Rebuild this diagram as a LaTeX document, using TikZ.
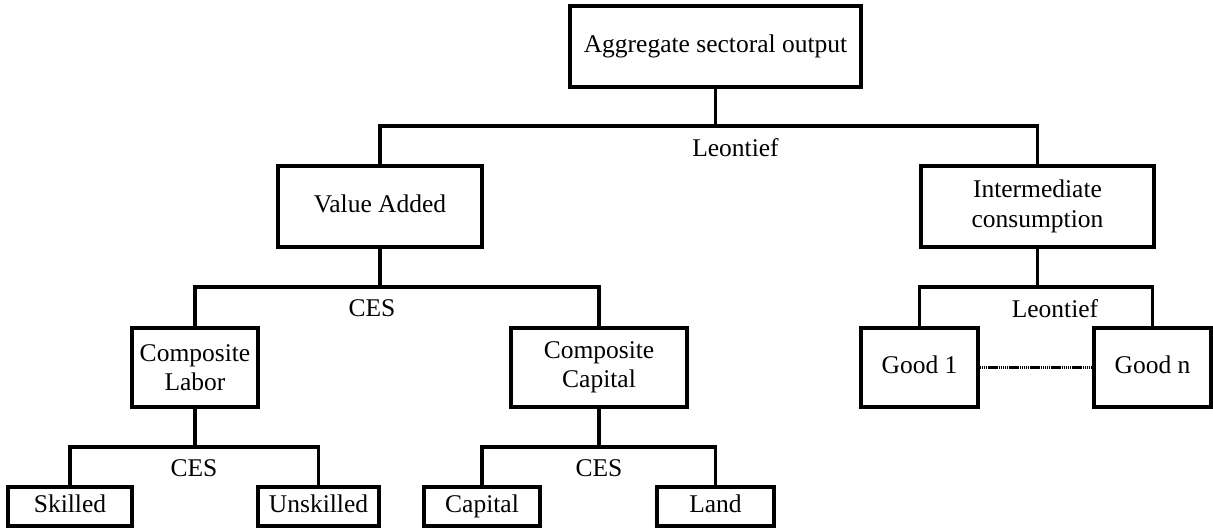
\documentclass[tikz,border=0pt]{standalone}
\usepackage{fontspec}
\setmainfont{Liberation Serif}
\begin{document}
\begin{tikzpicture}[x=1pt,y=-1pt,
  box/.style={draw=black,line width=3.2pt,fill=white,inner sep=0pt,align=center,
    font=\fontsize{25.5}{29.5}\selectfont},
  sl/.style={text height=18pt,text depth=5.5pt},
  lab/.style={inner sep=0pt,font=\fontsize{25.5}{29.5}\selectfont},
  conn/.style={draw=black,line width=3.2pt},
  dots/.style={draw=black,line width=2.2pt,dash pattern=on 1.5pt off 0.6pt}]
\useasboundingbox (0,0) rectangle (1213,530);
% boxes
\node[box,sl,minimum width=291pt,minimum height=81pt] (top) at (715.5,46.5) {Aggregate sectoral output};
\node[box,sl,minimum width=204pt,minimum height=81pt] (va) at (380,206.5) {Value Added};
\node[box,minimum width=233pt,minimum height=81pt] (ic) at (1037.5,206.5) {Intermediate\\consumption};
\node[box,minimum width=126pt,minimum height=79pt] (cl) at (195,367.5) {Composite\\Labor};
\node[box,minimum width=176pt,minimum height=79pt] (cc) at (599,367.5) {Composite\\Capital};
\node[box,sl,minimum width=117pt,minimum height=79pt] (g1) at (919.5,367.5) {Good 1};
\node[box,sl,minimum width=117pt,minimum height=79pt] (gn) at (1152.5,367.5) {Good n};
\node[box,sl,minimum width=124pt,minimum height=39pt] (sk) at (70,506.5) {Skilled};
\node[box,sl,minimum width=121pt,minimum height=39pt] (us) at (318.5,506.5) {Unskilled};
\node[box,sl,minimum width=116pt,minimum height=39pt] (ca) at (482,506.5) {Capital};
\node[box,sl,minimum width=117pt,minimum height=39pt] (la) at (715.5,506.5) {Land};
% junctions
\coordinate (j1) at (715.5,126);
\coordinate (j2) at (380,287);
\coordinate (j3) at (1037.5,287);
\coordinate (j4) at (195,447);
\coordinate (j5) at (599,447);
% connectors
\draw[conn] (top.south) -- (j1);
\draw[conn] (va.north) |- (j1) -| (ic.north);
\draw[conn] (va.south) -- (j2);
\draw[conn] (cl.north) |- (j2) -| (cc.north);
\draw[conn] (ic.south) -- (j3);
\draw[conn] (g1.north) |- (j3) -| (gn.north);
\draw[conn] (cl.south) -- (j4);
\draw[conn] (sk.north) |- (j4) -| (us.north);
\draw[conn] (cc.south) -- (j5);
\draw[conn] (ca.north) |- (j5) -| (la.north);
\draw[dots] (g1.east) -- (gn.west);
% labels
\node[lab] (l1) at (735.5,148) {Leontief};
\node[lab] (l2) at (372,308) {CES};
\node[lab] (l3) at (1055,309) {Leontief};
\node[lab] (l4) at (194,468) {CES};
\node[lab] (l5) at (599,468) {CES};
\end{tikzpicture}
\end{document}
